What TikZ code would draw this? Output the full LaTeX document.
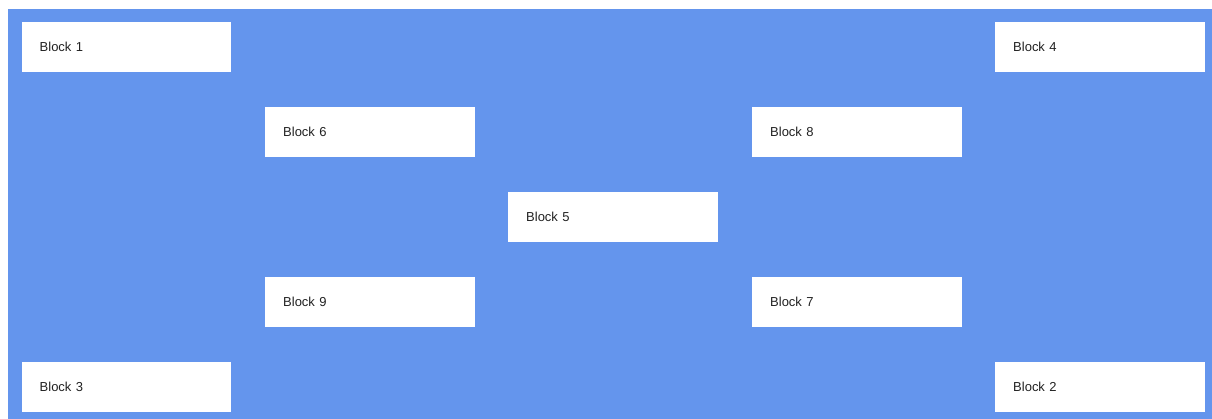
\documentclass[tikz,border=0pt]{standalone}
\usepackage{fontspec}
\setmainfont{Liberation Sans}
\definecolor{bgblue}{RGB}{100,149,237}
\definecolor{txt}{RGB}{34,34,34}
\begin{document}
\begin{tikzpicture}[x=1pt,y=-1pt,
  block/.style={fill=white, draw=none, minimum width=209.5pt, minimum height=50pt,
    inner xsep=18pt, inner ysep=0pt, text width=173.5pt, align=left,
    font=\fontsize{13}{15}\selectfont, text=txt, anchor=north west}]
\useasboundingbox (0,0) rectangle (1212,419);
\fill[bgblue] (7.5,9) rectangle (1212,419);
\node[block] (b1) at (21.5,22) {Block 1};
\node[block] (b4) at (995,22) {Block 4};
\node[block] (b6) at (265,107) {Block 6};
\node[block] (b8) at (752,107) {Block 8};
\node[block] (b5) at (508,192) {Block 5};
\node[block] (b9) at (265,277) {Block 9};
\node[block] (b7) at (752,277) {Block 7};
\node[block] (b3) at (21.5,362) {Block 3};
\node[block] (b2) at (995,362) {Block 2};
\end{tikzpicture}
\end{document}
